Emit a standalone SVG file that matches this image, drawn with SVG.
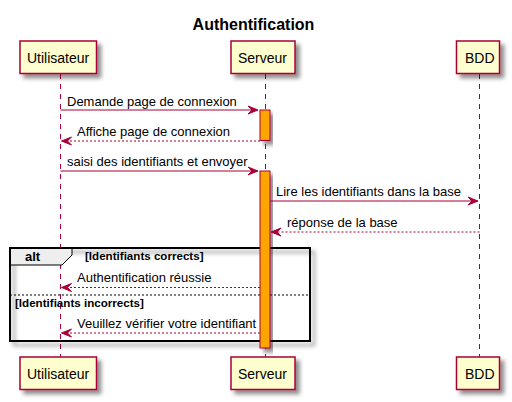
<svg xmlns="http://www.w3.org/2000/svg" width="512" height="402" viewBox="0 0 512 402">
<style>
.life{stroke:#A80036;stroke-width:1;stroke-dasharray:5,5;fill:none}
.act{fill:#FFA500;stroke:#A80036;stroke-width:1}
.msg{stroke:#A80036;stroke-width:1;fill:none}
.ret{stroke:#A80036;stroke-width:1;stroke-dasharray:2,2;fill:none}
.head{fill:#A80036;stroke:#A80036;stroke-width:1}
.box{fill:#FEFECE;stroke:#A80036;stroke-width:1.5}
.pl{font-family:"Liberation Sans",Arial,sans-serif;font-size:14px;fill:#000}
.lbl{font-family:"Liberation Sans",Arial,sans-serif;font-size:13px;fill:#000}
.guard{font-family:"Liberation Sans",Arial,sans-serif;font-size:11.6px;font-weight:bold;fill:#000}
</style>
<defs>
<filter id="sh" x="-20%" y="-20%" width="150%" height="150%">
<feGaussianBlur in="SourceAlpha" stdDeviation="2" result="b"/>
<feColorMatrix in="b" type="matrix" values="0 0 0 0 0  0 0 0 0 0  0 0 0 0 0  0 0 0 0.45 0" result="c"/>
<feOffset in="c" dx="4" dy="4" result="o"/>
<feMerge><feMergeNode in="o"/><feMergeNode in="SourceGraphic"/></feMerge>
</filter>
</defs>
<rect width="512" height="402" fill="#FFFFFF"/>
<text x="253.5" y="30" text-anchor="middle" font-family="Liberation Sans,Arial,sans-serif" font-size="16" font-weight="bold">Authentification</text>

<g id="lifelines">
<line class="life" x1="60.5" y1="74" x2="60.5" y2="357"/>
<line class="life" x1="265.5" y1="74" x2="265.5" y2="357"/>
<line class="life" x1="479.5" y1="74" x2="479.5" y2="357"/>
</g>

<g id="alt-frame">
<rect x="10" y="248" width="300" height="93" fill="none" stroke="#000" stroke-width="2" filter="url(#sh)"/>
<path d="M10,248 L72,248 L72,255 L62,265 L10,265 Z" fill="#EEEEEE" stroke="#000" stroke-width="1"/>
<rect x="10" y="248" width="300" height="93" fill="none" stroke="#000" stroke-width="2"/>
<text x="25" y="261" font-family="Liberation Sans,Arial,sans-serif" font-size="13" font-weight="bold">alt</text>
<text class="guard" x="85" y="259.5">[Identifiants corrects]</text>
<line x1="10" y1="295" x2="310" y2="295" stroke="#000" stroke-width="1" stroke-dasharray="2,2"/>
<text class="guard" x="15" y="307">[Identifiants incorrects]</text>
</g>

<g id="activations">
<rect class="act" x="260" y="110" width="10" height="30.5" filter="url(#sh)"/>
<rect class="act" x="260" y="171" width="10" height="177" filter="url(#sh)"/>
</g>

<g id="Utilisateur">
<rect class="box" x="20" y="41" width="76.5" height="32.5" filter="url(#sh)"/>
<text class="pl" x="27" y="63">Utilisateur</text>
<rect class="box" x="20" y="357" width="76.5" height="32.5" filter="url(#sh)"/>
<text class="pl" x="27" y="379">Utilisateur</text>
</g>
<g id="Serveur">
<rect class="box" x="231" y="41" width="64" height="32.5" filter="url(#sh)"/>
<text class="pl" x="238" y="63">Serveur</text>
<rect class="box" x="231" y="357" width="64" height="32.5" filter="url(#sh)"/>
<text class="pl" x="238" y="379">Serveur</text>
</g>
<g id="BDD">
<rect class="box" x="456.5" y="41" width="43" height="32.5" filter="url(#sh)"/>
<text class="pl" x="465" y="63">BDD</text>
<rect class="box" x="456.5" y="357" width="43" height="32.5" filter="url(#sh)"/>
<text class="pl" x="465" y="379">BDD</text>
</g>

<g id="connectors">
<line class="msg" x1="60.5" y1="110" x2="257" y2="110"/>
<polygon class="head" points="248,106 258,110 248,114 252,110"/>
<text class="lbl" x="67" y="106">Demande page de connexion</text>

<line class="ret" x1="260" y1="141" x2="63" y2="141"/>
<polygon class="head" points="71.5,137 61.5,141 71.5,145 67.5,141"/>
<text class="lbl" x="77" y="136">Affiche page de connexion</text>

<line class="msg" x1="60.5" y1="171" x2="257" y2="171"/>
<polygon class="head" points="248,167 258,171 248,175 252,171"/>
<text class="lbl" x="67" y="166">saisi des identifiants et envoyer</text>

<line class="msg" x1="270" y1="201" x2="477" y2="201"/>
<polygon class="head" points="468,197 478,201 468,205 472,201"/>
<text class="lbl" x="276" y="196">Lire les identifiants dans la base</text>

<line class="ret" x1="479.5" y1="232" x2="273" y2="232"/>
<polygon class="head" points="281,228 271,232 281,236 277,232"/>
<text class="lbl" x="287" y="227">réponse de la base</text>

<line class="ret" x1="260" y1="287.5" x2="63" y2="287.5"/>
<polygon class="head" points="71.5,283.5 61.5,287.5 71.5,291.5 67.5,287.5"/>
<text class="lbl" x="77" y="282">Authentification réussie</text>

<line class="ret" x1="260" y1="333" x2="63" y2="333"/>
<polygon class="head" points="71.5,329 61.5,333 71.5,337 67.5,333"/>
<text class="lbl" x="77" y="328">Veuillez vérifier votre identifiant</text>
</g>
</svg>
